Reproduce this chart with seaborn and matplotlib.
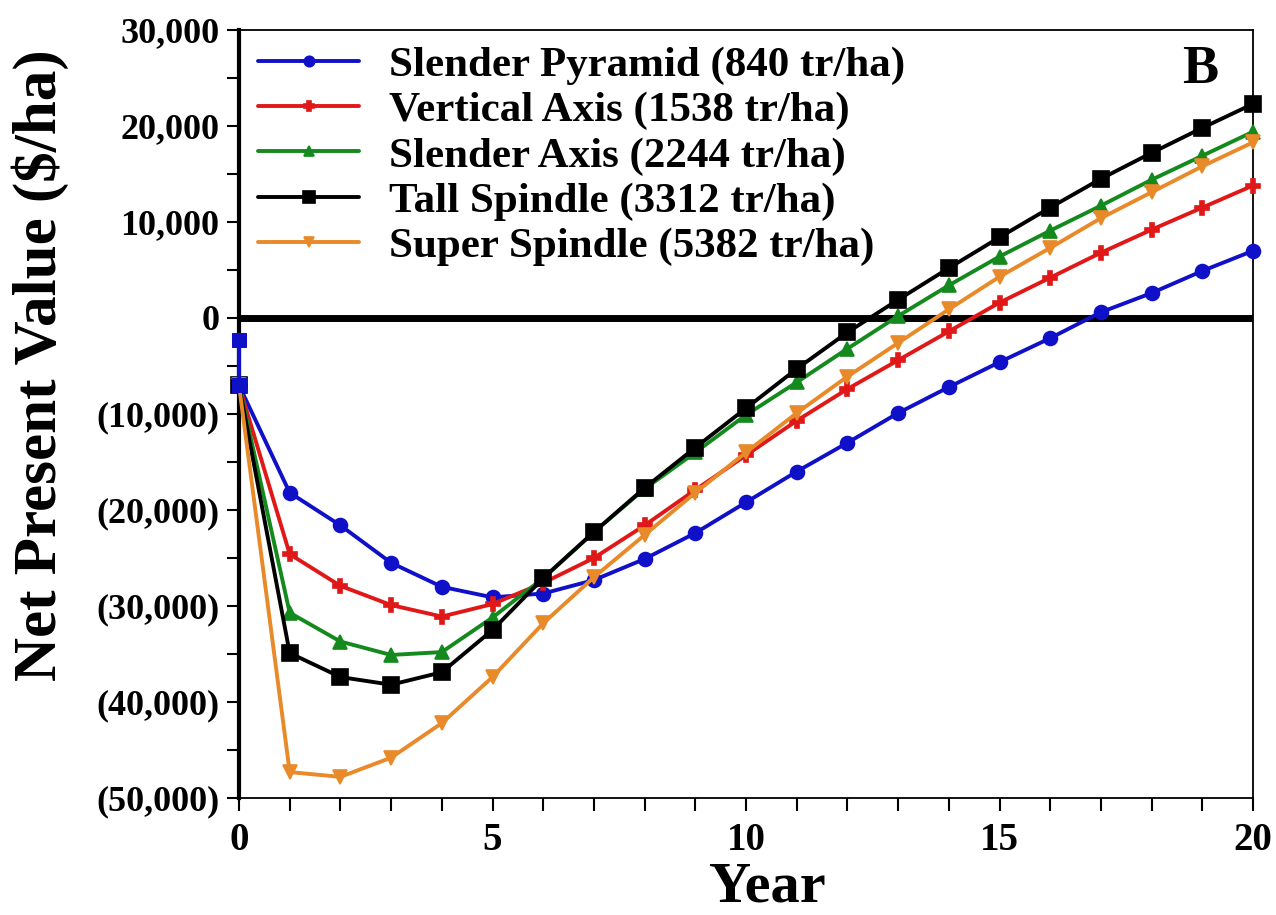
import numpy as np
import pandas as pd
import matplotlib
matplotlib.use("Agg")
import matplotlib.pyplot as plt
import seaborn as sns
from matplotlib.ticker import MultipleLocator, FuncFormatter

years = list(range(0, 21))
pyramid_start_years = [0, 0]
pyramid_start = [-2300, -7000]
slender_pyramid = [-7000, -18200, -21600, -25500, -28000, -29100, -28700, -27300, -25100, -22400,
                   -19200, -16000, -13000, -9900, -7200, -4600, -2100, 600, 2600, 4900, 7000]
vertical_axis = [-7000, -24600, -27900, -29900, -31100, -29800, -27600, -25000, -21600, -17900, -14300,
                 -10700, -7400, -4400, -1400, 1600, 4200, 6800, 9200, 11500, 13800]
slender_axis = [-7000, -30700, -33700, -35100, -34800, -31200, -27100, -22300, -17800, -14000, -10100,
                -6700, -3200, 200, 3400, 6400, 9100, 11700, 14400, 16900, 19400]
tall_spindle = [-7000, -34900, -37400, -38200, -36900, -32500, -27100, -22300, -17700, -13500, -9400,
                -5300, -1500, 1900, 5200, 8400, 11500, 14500, 17200, 19800, 22300]
super_spindle = [-7000, -47300, -47800, -45800, -42200, -37400, -31800, -27000, -22600, -18200, -14000,
                 -9900, -6100, -2600, 900, 4300, 7300, 10400, 13100, 15800, 18300]

labels = ["Slender Pyramid (840 tr/ha)", "Vertical Axis (1538 tr/ha)", "Slender Axis (2244 tr/ha)",
          "Tall Spindle (3312 tr/ha)", "Super Spindle (5382 tr/ha)"]
colors = ["#1010C8", "#E01818", "#148A1E", "#000000", "#E8892A"]
markers = ["o", "P", "^", "s", "v"]
msizes = [10, 10, 10, 11, 10]

sns.set_theme(style="white")
plt.rcParams['font.family'] = ['Liberation Serif', 'DejaVu Serif']
plt.rcParams['font.weight'] = 'bold'
plt.rcParams['text.color'] = 'black'
plt.rcParams['axes.labelcolor'] = 'black'
plt.rcParams['xtick.color'] = 'black'
plt.rcParams['ytick.color'] = 'black'

W, H = 1276, 915
fig = plt.figure(figsize=(W / 100, H / 100), dpi=100)
ax = fig.add_axes([239 / W, 1 - 798 / H, 1014 / W, (798 - 30) / H])

series = [slender_pyramid, vertical_axis, slender_axis, tall_spindle, super_spindle]
for ys, lab, c, m, ms in zip(series, labels, colors, markers, msizes):
    df = pd.DataFrame({"Year": years, "NPV": ys})
    sns.lineplot(data=df, x="Year", y="NPV", ax=ax, color=c, marker=m, markersize=ms,
                 linewidth=2.8, estimator=None, sort=False, label=lab,
                 markeredgecolor=c, markeredgewidth=1.2, clip_on=False, zorder=3)

# blue start segment at year 0 (square markers)
df0 = pd.DataFrame({"Year": pyramid_start_years, "NPV": pyramid_start})
sns.lineplot(data=df0, x="Year", y="NPV", ax=ax, color=colors[0], marker="s", markersize=10,
             linewidth=3, estimator=None, sort=False, legend=False, markeredgecolor=colors[0],
             clip_on=False, zorder=4)

ax.axhline(0, color="black", linewidth=5, zorder=1)

ax.set_xlim(0, 20)
ax.set_ylim(-50000, 30000)
ax.xaxis.set_major_locator(MultipleLocator(5))
ax.xaxis.set_minor_locator(MultipleLocator(1))
ax.yaxis.set_major_locator(MultipleLocator(10000))
ax.yaxis.set_minor_locator(MultipleLocator(5000))

def fmt(v, pos):
    v = int(round(v))
    if v < 0:
        return "({:,})".format(-v)
    return "{:,}".format(v)
ax.yaxis.set_major_formatter(FuncFormatter(fmt))

ax.tick_params(axis="both", which="both", direction="out", color="black", left=True, bottom=True)
ax.tick_params(axis="both", which="both", length=9, width=1.5)
ax.tick_params(axis="y", labelsize=26, pad=5, labelcolor="black")
ax.tick_params(axis="x", labelsize=28, pad=8, labelcolor="black")
for lbl in ax.get_xticklabels() + ax.get_yticklabels():
    lbl.set_fontweight("bold")

ax.spines["left"].set_linewidth(3)
for side in ["bottom", "top", "right"]:
    ax.spines[side].set_linewidth(1.3)
for s in ax.spines.values():
    s.set_color("black")

ax.set_xlabel("Year", fontsize=42, fontweight="bold", va="top", color="black")
ax.xaxis.set_label_coords((767 - 239) / 1014, -0.083)
ax.set_ylabel("Net Present Value ($/ha)", fontsize=44, fontweight="bold", va="center", color="black")
ax.yaxis.set_label_coords((40 - 239) / 1014, (798 - 365) / 768)

ax.text((1200 - 239) / 1014, (798 - 70) / 768, "B", transform=ax.transAxes, fontsize=39,
        fontweight="bold", ha="center", va="center", color="black")

leg = ax.legend(loc="upper left", bbox_to_anchor=(258 / W, 1 - 46 / H), bbox_transform=fig.transFigure,
                frameon=False, handlelength=2.35, labelspacing=0.14, borderaxespad=0, borderpad=0,
                handletextpad=0.7, markerscale=0.75, prop={"weight": "bold", "size": 31})
for t in leg.get_texts():
    t.set_color("black")

fig.savefig("out.png", dpi=100)
